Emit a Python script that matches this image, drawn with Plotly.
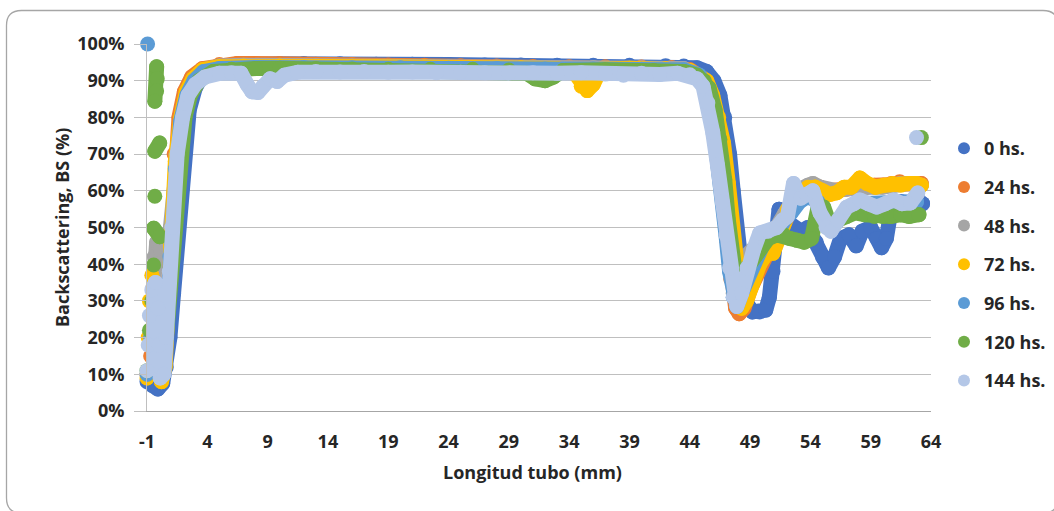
import plotly.graph_objects as go

# Backscattering profiles along the tube, one series per storage time
SERIES_NAMES = ["0 hs.", "24 hs.", "48 hs.", "72 hs.", "96 hs.", "120 hs.", "144 hs."]
SERIES_COLORS = ["#4472C4", "#ED7D31", "#A5A5A5", "#FFC000", "#5B9BD5", "#70AD47", "#B4C7E7"]

X_TICKS = [-1, 4, 9, 14, 19, 24, 29, 34, 39, 44, 49, 54, 59, 64]

# 0 hs.
X_0 = [-1.0, -0.6, -0.1, 0.3, 0.6, 0.9, 1.2, 1.5, 1.8, 2.1,
       2.5, 3.0, 3.6, 4.5, 6, 8, 10, 12, 15, 18,
       21, 24, 27, 30, 33, 36, 39, 42, 43.5, 44.6,
       45.4, 46.0, 46.5, 46.9, 47.3, 47.6, 47.9, 48.2, 48.6, 49.2,
       49.8, 50.3, 50.6, 50.9, 51.1, 51.4, 51.9, 52.5, 53.2, 53.8,
       54.5, 55.0, 55.5, 56.0, 56.5, 57.2, 57.8, 58.3, 59.0, 59.5,
       59.9, 60.3, 60.7, 61.5, 62.3, 63.0, 63.3]
BS_0 = [8, 7, 6, 7.5, 12, 20, 32, 46, 60, 72,
        82, 88, 91.5, 93.3, 94.2, 94.5, 94.6, 94.7, 94.6, 94.5,
        94.5, 94.4, 94.3, 94.3, 94.2, 94.2, 94.2, 94.1, 94.0, 93.5,
        92.5, 90, 86, 80, 70, 60, 48, 38, 30, 27,
        27, 27.5, 31, 38, 48, 55, 52, 50, 49, 50,
        46, 42, 39, 42, 47, 48, 45, 49, 50, 47,
        44.5, 47, 55, 57, 57, 57.5, 56.5]

# 24 hs.
X_24 = [-1.0, -0.7, -0.4, -0.1, 0.2, 0.4, 0.6, 0.8, 1.0, 1.25,
        1.65, 2.1, 2.7, 3.6, 5, 6.5, 8, 10, 13, 16,
        19, 22, 25, 28, 31, 34, 37, 40, 42.5, 44.0,
        44.9, 45.5, 46.0, 46.4, 46.8, 47.1, 47.4, 47.8, 48.1, 48.5,
        49.0, 49.6, 50.3, 51.0, 51.6, 52.2, 52.8, 53.4, 54.1, 54.8,
        55.5, 56.2, 57.0, 57.8, 58.5, 59.3, 60.0, 60.7, 61.4, 62.1,
        62.8, 63.2]
BS_24 = [10, 15, 20, 25, 20, 15, 25, 38, 50, 70,
         80, 87, 91, 93.3, 94.4, 94.7, 94.7, 94.6, 94.5, 94.4,
         94.3, 94.2, 94.1, 94.0, 93.9, 93.8, 93.8, 93.7, 93.6, 93.0,
         91.0, 86, 78, 68, 57, 46, 36, 28, 26.5, 28,
         33, 38, 42, 45, 50, 55, 58, 60, 61, 61,
         60, 60, 60.5, 61, 61, 61.5, 61.5, 62, 62.5, 62,
         62, 62]

# 48 hs.
X_48 = [-1.0, -0.7, -0.5, -0.4, -0.2, 0.1, 0.4, 0.7, 0.95, 1.4,
        1.85, 2.3, 2.9, 3.7, 5, 7, 10, 13, 16, 20,
        24, 28, 32, 36, 40, 43.5, 44.8, 45.3, 45.8, 46.2,
        46.6, 47.0, 47.3, 47.6, 47.9, 48.2, 48.6, 49.2, 49.8, 50.5,
        51.2, 51.9, 52.6, 53.2, 53.8, 54.2, 54.8, 55.5, 56.2, 57.0,
        57.8, 58.5, 59.3, 60.0, 60.7, 61.4, 62.1, 62.8, 63.2]
BS_48 = [10, 22, 34, 42, 46, 44, 40, 42, 50, 70,
         80, 86.5, 90.5, 93, 94.0, 94.2, 94.2, 94.1, 94.0, 93.9,
         93.8, 93.7, 93.6, 93.6, 93.5, 93.3, 91, 88, 81, 72,
         61, 50, 40, 32, 30, 38, 42, 44, 46, 47.5,
         50, 54, 58, 60.5, 61.5, 62, 61, 60, 60, 60.5,
         61, 61.5, 61, 61, 61.5, 62, 62, 61.5, 61.5]

# 72 hs.
X_72 = [-1.0, -0.9, -0.8, -0.6, -0.3, 0.0, 0.2, 0.5, 0.75, 0.95,
        1.35, 1.8, 2.25, 2.8, 3.6, 5, 7, 10, 14, 18,
        22, 26, 30, 33, 34.5, 35.0, 35.5, 36.0, 36.6, 39,
        42, 44.0, 44.8, 45.4, 45.9, 46.4, 46.8, 47.2, 47.5, 47.8,
        48.0, 48.3, 48.7, 49.2, 49.8, 50.4, 50.9, 51.5, 52.1, 52.6,
        53.2, 53.8, 54.4, 55.0, 55.6, 56.2, 56.8, 57.4, 58.1, 58.7,
        59.4, 60.1, 60.8, 61.5, 62.2, 62.8, 63.2]
BS_72 = [9, 20, 30, 37, 30, 15, 8, 12, 30, 45,
         68, 80, 87, 90.5, 93, 93.8, 94.0, 94.0, 93.9, 93.8,
         93.7, 93.6, 93.5, 93.3, 92, 88.5, 87.3, 89, 93.1, 93.4,
         93.3, 92.8, 91.3, 90, 86, 80, 73, 62, 50, 40,
         32, 28, 30, 35, 40, 43, 43, 48, 55, 58,
         60, 61, 61, 60, 59, 59.5, 61, 61, 63.5, 62,
         61, 61.5, 62, 61.5, 62, 62, 61.5]

# 96 hs.
X_96 = [-0.95, None, -1.0, -0.7, -0.4, 0.0, 0.3, 0.6, 0.9, 1.35,
        1.8, 2.3, 2.9, 3.7, 5, 8, 12, 16, 20, 24,
        28, 32, 36, 40, 43.5, 44.8, 45.4, 45.9, 46.3, 46.7,
        47.0, 47.3, 47.6, 47.9, 48.4, 49.0, 49.6, 50.3, 51.0, 51.7,
        52.4, 53.1, 53.8, 54.6, 55.4, 56.2, 57.0, 57.8, 58.6, 59.4,
        60.2, 61.0, 61.8, 62.4, 62.8]
BS_96 = [100, None, 10, 20, 30, 20, 12, 25, 42, 66,
         79, 86, 90, 92.5, 93.3, 93.6, 93.6, 93.5, 93.5, 93.4,
         93.3, 93.2, 93.2, 93.1, 93.0, 91.5, 87, 79, 70, 59,
         48, 38, 31, 28.5, 33, 38, 43, 47, 49, 51,
         54, 57, 58.5, 57, 52, 51.5, 55, 56.5, 56.5, 56,
         56.5, 56.5, 56.5, 56.5, 57]

# 120 hs.
X_120 = [-0.2, -0.15, -0.2, -0.35, None, 0.05, -0.35, None, -0.35, None,
         -0.45, 0.05, None, -0.45, None, -1.0, -0.8, -0.6, -0.3, 0.0,
         0.3, 0.6, 1.0, 1.2, 1.7, 2.15, 2.6, 3.3, 4.5, 6,
         8, 10, 13, 16, 19, 21.5, 22.5, 26, 29, 30.5,
         31.2, 32.0, 32.7, 33.5, 37, 41, 43.5, 44.6, 45.2, 45.6,
         46.1, 46.5, 46.9, 47.2, 47.5, 47.8, 48.1, 48.5, 49.1, 49.8,
         50.5, 51.2, 51.8, 52.3, 52.9, 53.5, 54.1, 54.6, 55.1, 55.7,
         56.3, 57.0, 57.7, 58.5, 59.3, 60.0, 60.7, 61.5, 62.2, 63.0,
         None, 63.2]
BS_120 = [93.8, 90.5, 87.2, 84.4, None, 73, 70.8, None, 58.5, None,
          49.8, 47.5, None, 39.8, None, 11, 22, 30, 24, 14,
          12, 20, 38, 50, 70, 80, 86, 90, 92.5, 93.1,
          93.3, 93.4, 93.3, 93.2, 93.1, 92.5, 93.1, 93.1, 92.9, 92.0,
          90.5, 90.0, 91.0, 92.8, 93.0, 92.8, 92.5, 91.5, 90, 88,
          82, 74, 63, 52, 42, 37, 36, 38, 41, 45,
          47, 48, 48, 47, 46.5, 46, 47, 55, 55.6, 50,
          52, 53, 54, 53.5, 53, 53, 53, 53.5, 53, 53.5,
          None, 74.5]

# 144 hs.
X_144 = [-1.0, -0.9, -0.8, -0.6, -0.3, -0.1, 0.0, 0.1, 0.4, 0.6,
         0.85, 1.05, 1.5, 1.95, 2.4, 3.0, 3.8, 5, 6, 6.8,
         7.3, 7.7, 8.2, 8.6, 9.2, 9.8, 10.4, 11.5, 13, 15,
         17, 19, 21, 23, 25, 27, 29, 31, 33, 35,
         37, 38.5, 40, 41.5, 43, 44.0, 44.6, 45.1, 45.5, 45.9,
         46.3, 46.7, 47.0, 47.3, 47.6, 47.9, 48.3, 48.75, 49.3, 49.8,
         50.5, 51.2, 51.7, 52.1, 52.6, 53.2, 53.7, 54.2, 54.8, 55.3,
         55.7, 56.3, 57.0, 57.6, 58.1, 58.8, 59.5, 60.2, 60.9, 61.6,
         62.3, 62.9, None, 62.8]
BS_144 = [11, 18, 26, 33, 35, 28, 18, 9, 10, 20,
          38, 50, 70, 80, 86, 89, 91, 92, 92.2, 92,
          89, 87, 86.8, 88.5, 90.5, 89.8, 91.5, 92.3, 92.5, 92.4,
          92.5, 92.3, 92.4, 92.2, 92.3, 92.2, 92.1, 92.2, 92.0, 92.2,
          91.8, 91.5, 92.0, 91.7, 92.0, 91.6, 90.5, 88.5, 84, 76,
          67, 57, 48, 39, 31, 28.5, 32, 39, 44, 48.5,
          49, 50, 52, 53, 62, 58, 59, 60, 54, 50,
          49, 52, 55.5, 56.5, 57.5, 56.5, 55.6, 56.5, 57.5, 56.5,
          56.7, 59.4, None, 74.5]

SERIES_X = [X_0, X_24, X_48, X_72, X_96, X_120, X_144]
SERIES_Y = [BS_0, BS_24, BS_48, BS_72, BS_96, BS_120, BS_144]

FONT = "Open Sans"
TEXT_COLOR = "#262626"
GRID_COLOR = "#BFBFBF"
TEXT_SIZE = 18
MARK = 15
BAND = 15

# plot area in pixels (left, top, right, bottom)
PL, PT, PR, PB = 147, 44, 931, 411
W, H = 1054, 511


def fx(px):
    return (px - PL) / (PR - PL)


def fy(py):
    return (PB - py) / (PB - PT)


def text_font(size=TEXT_SIZE):
    return dict(family=FONT, size=size, color=TEXT_COLOR, weight="bold")


fig = go.Figure()

for name, color, xs, ys in zip(SERIES_NAMES, SERIES_COLORS, SERIES_X, SERIES_Y):
    fig.add_trace(go.Scatter(
        x=xs, y=ys, mode="lines+markers", name=name,
        line=dict(color=color, width=BAND),
        marker=dict(color=color, size=MARK, line=dict(width=0)),
        cliponaxis=False, showlegend=False, hoverinfo="skip",
        legendgroup=name,
    ))

# legend entries (dot symbols only)
for name, color in zip(SERIES_NAMES, SERIES_COLORS):
    fig.add_trace(go.Scatter(
        x=[None], y=[None], mode="markers", name=name,
        marker=dict(color=color, size=10), legendgroup=name,
        showlegend=True,
    ))

# rounded chart frame
L, T, R, B, r = 6.5, 10.5, 1058, 513, 15
frame = (
    f"M {fx(L + r)},{fy(T)} L {fx(R - r)},{fy(T)} "
    f"Q {fx(R)},{fy(T)} {fx(R)},{fy(T + r)} L {fx(R)},{fy(B - r)} "
    f"Q {fx(R)},{fy(B)} {fx(R - r)},{fy(B)} L {fx(L + r)},{fy(B)} "
    f"Q {fx(L)},{fy(B)} {fx(L)},{fy(B - r)} L {fx(L)},{fy(T + r)} "
    f"Q {fx(L)},{fy(T)} {fx(L + r)},{fy(T)} Z"
)
fig.add_shape(type="path", path=frame, xref="paper", yref="paper",
              line=dict(color="#A6A6A6", width=1.3), layer="below")

fig.update_layout(
    width=W, height=H,
    margin=dict(l=PL, r=W - PR, t=PT, b=H - PB, autoexpand=False),
    paper_bgcolor="white", plot_bgcolor="white",
    font=dict(family=FONT, color=TEXT_COLOR, size=TEXT_SIZE),
    showlegend=True,
    legend=dict(
        x=fx(944), y=fy(130), xanchor="left", yanchor="top",
        font=text_font(),
        traceorder="grouped", tracegroupgap=12.3, itemsizing="constant",
        bgcolor="rgba(0,0,0,0)",
    ),
    annotations=[
        dict(text="Longitud tubo (mm)", x=fx(532), y=fy(472), xref="paper", yref="paper",
             showarrow=False, xanchor="center", yanchor="middle", font=text_font()),
        dict(text="Backscattering, BS (%)", x=fx(62), y=fy(228), xref="paper", yref="paper",
             showarrow=False, xanchor="center", yanchor="middle", textangle=-90,
             font=text_font()),
    ],
)

fig.update_xaxes(
    range=[-1, 64], tickmode="array", tickvals=X_TICKS,
    ticktext=[str(v) for v in X_TICKS],
    showgrid=False, zeroline=False, showline=True, linecolor="#A6A6A6", linewidth=1,
    ticks="", ticklabelstandoff=14,
    tickfont=text_font(),
)
fig.update_yaxes(
    range=[0, 100], tick0=0, dtick=10, ticksuffix="%",
    showgrid=True, gridcolor=GRID_COLOR, gridwidth=1,
    zeroline=False, showline=True, linecolor=GRID_COLOR, linewidth=1,
    ticks="outside", ticklen=12, tickcolor=GRID_COLOR,
    ticklabelstandoff=6,
    tickfont=text_font(),
)

# round the joints of the thick series strokes
ROUND_JOINS = (
    "document.querySelectorAll('.js-line').forEach(function(p){"
    "p.style.strokeLinejoin='round';p.style.strokeLinecap='round';});"
)

fig.write_html("out.html", post_script=ROUND_JOINS)
